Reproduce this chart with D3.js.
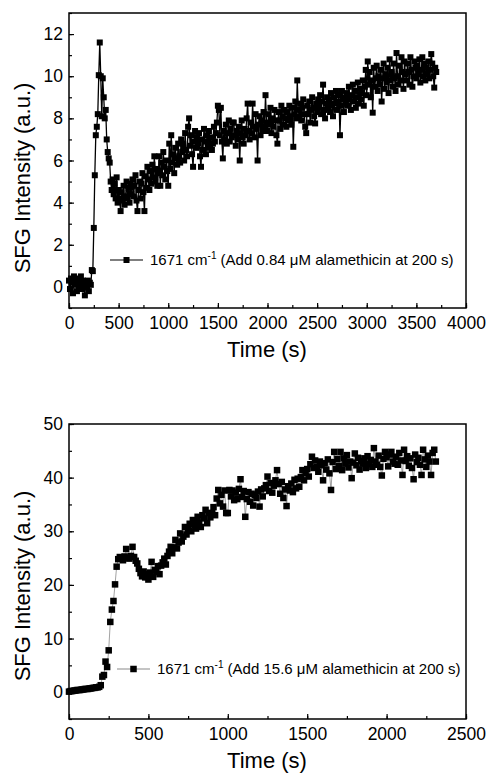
<!DOCTYPE html>
<html lang="en">
<head>
    <meta charset="UTF-8">
    <title>SFG Intensity vs Time</title>
    <script src="https://d3js.org/d3.v7.min.js"></script>
    <style>
        body { margin: 0; background: #fff; }
        svg text { font-family: "Liberation Sans", Arial, sans-serif; fill: #000; }
        .tick text { font-size: 17.5px; }
        .axis path { display: none; }
        .axis line { stroke: #000; stroke-width: 1.2; }
        .axis-title { font-size: 22px; }
        .legend-label { font-size: 15px; }
    </style>
</head>
<body>
    <svg id="chart"></svg>

    <script>
        // Top panel: 0.84 uM alamethicin, one reading every 10 s starting at 0 s
        const topStart = 0;
        const topStep = 10;
        const topValues = [
            0.3, -0.1, 0.4, 0.2, -0.3, 0.5, 0.1, 0.3, -0.2, 0.4,
            0.0, 0.2, 0.5, -0.1, 0.3, 0.1, -0.4, 0.2, 0.0, 0.3,
            -0.2, 0.2, 0.1, 0.8, 0.75, 2.8, 5.3, 7.2, 7.6, 8.2,
            10.05, 11.6, 10.0, 8.1, 9.9, 9.0, 8.0, 8.4, 7.0, 6.4,
            6.1, 5.9, 5.0, 4.6, 5.1, 4.4, 4.9, 4.2, 5.2, 4.0,
            4.6, 4.2, 3.6, 4.5, 4.1, 4.8, 3.9, 4.3, 5.0, 4.2,
            4.7, 4.0, 4.9, 4.4, 5.1, 4.3, 4.8, 5.3, 4.1, 3.6,
            4.6, 5.0, 4.2, 4.9, 5.4, 4.5, 3.6, 5.25, 4.7, 5.7,
            5.1, 4.6, 5.5, 4.9, 5.8, 5.2, 6.2, 5.0, 5.6, 4.8,
            5.4, 6.2, 4.8, 5.9, 5.3, 6.4, 5.7, 5.1, 6.0, 5.5,
            4.8, 6.8, 5.6, 7.2, 5.9, 6.3, 5.4, 6.6, 6.1, 5.8,
            6.8, 6.2, 5.9, 7.0, 6.4, 6.8, 6.0, 7.3, 6.5, 6.2,
            7.6, 8.0, 6.7, 7.2, 6.3, 5.7, 6.9, 7.4, 6.6, 7.1,
            6.8, 7.3, 6.2, 5.7, 7.0, 6.5, 7.5, 6.9, 6.3, 7.2,
            6.6, 7.4, 6.8, 7.1, 6.5, 6.8, 7.6, 6.9, 7.3, 7.8,
            8.6, 8.4, 7.2, 8.5, 6.9, 6.1, 7.4, 7.0, 7.7, 6.8,
            7.3, 7.9, 6.9, 7.5, 7.1, 7.8, 7.8, 7.2, 6.7, 7.4,
            7.0, 7.6, 6.0, 7.3, 7.9, 7.1, 6.8, 7.5, 7.2, 8.0,
            8.7, 7.4, 7.0, 7.8, 7.3, 8.7, 7.6, 7.1, 8.2, 7.5,
            6.0, 7.7, 8.1, 7.2, 7.9, 7.4, 8.3, 7.6, 9.1, 7.8,
            7.4, 8.2, 7.7, 8.5, 7.3, 8.0, 7.6, 8.4, 7.9, 7.2,
            6.8, 8.3, 7.9, 7.5, 8.6, 8.1, 7.7, 8.4, 8.0, 7.6,
            8.3, 7.9, 8.6, 8.1, 7.7, 8.5, 6.65, 8.2, 8.8, 8.0,
            9.8, 8.4, 8.1, 8.7, 7.9, 8.5, 8.9, 8.2, 7.6, 7.3,
            8.6, 8.2, 8.8, 7.8, 8.4, 9.0, 8.5, 8.1, 7.76, 8.7,
            8.3, 8.9, 8.5, 9.1, 8.2, 8.8, 9.6, 8.4, 8.0, 8.7,
            9.0, 8.5, 8.9, 8.3, 9.2, 8.6, 8.1, 9.0, 8.7, 9.3,
            8.4, 8.8, 9.1, 7.2, 8.6, 9.3, 8.9, 8.3, 9.0, 8.7,
            9.2, 8.6, 9.5, 8.9, 8.4, 9.1, 9.6, 8.8, 9.3, 8.5,
            9.0, 9.7, 8.7, 9.4, 8.9, 9.2, 9.8, 8.6, 9.5, 10.3,
            9.1, 10.7, 9.6, 10.2, 9.0, 9.8, 8.27, 10.4, 9.5, 9.9,
            10.5, 9.3, 10.0, 9.6, 10.3, 8.8, 9.9, 10.6, 9.4, 10.1,
            9.7, 10.4, 9.2, 10.8, 9.8, 10.2, 9.5, 10.6, 9.9, 9.3,
            11.1, 10.0, 9.6, 10.5, 9.8, 10.9, 10.2, 9.4, 10.7, 10.1,
            9.8, 10.6, 10.2, 9.6, 10.9, 10.3, 9.5, 10.0, 10.7, 10.4,
            9.9, 10.5, 10.1, 10.8, 9.7, 10.3, 10.9, 10.0, 10.6, 9.8,
            10.4, 10.1, 10.7, 9.9, 10.3, 11.05, 10.6, 10.0, 9.46, 10.4, 10.2
        ];

        // Bottom panel: 15.6 uM alamethicin, one reading every 10 s starting at 0 s
        const bottomStart = 0;
        const bottomStep = 10;
        const bottomValues = [
            0.1, 0.2, 0.2, 0.3, 0.3, 0.4, 0.4, 0.4, 0.5, 0.5,
            0.6, 0.6, 0.6, 0.7, 0.7, 0.8, 0.8, 0.9, 0.9, 1.0,
            1.3, 2.9, 3.2, 5.7, 4.7, 7.8, 13.1, 15.4, 17.0, 20.1,
            23.4, 24.8, 25.2, 25.0, 24.6, 25.3, 26.7, 25.1, 24.9, 25.4,
            27.1, 25.2, 24.5, 24.0, 23.0, 22.2, 21.6, 22.5, 21.4, 22.0,
            21.0, 22.3, 24.3, 21.5, 22.8, 22.4, 23.5, 22.0, 23.6, 24.2,
            24.9, 23.8, 25.4, 26.2, 27.1, 25.9, 27.0, 28.4, 26.8, 27.9,
            29.6, 28.1, 29.0, 30.8, 29.4, 30.2, 31.4, 30.0, 32.1, 31.2,
            30.5, 32.7, 31.6, 30.8, 33.0, 32.4, 34.0, 31.5, 33.4, 32.6,
            33.4, 34.5, 33.0, 36.1, 37.7, 35.2, 36.8, 34.6, 37.6, 33.4,
            33.4, 37.7, 36.5, 37.6, 35.8, 37.2, 36.0, 37.9, 39.7, 36.4,
            37.5, 32.7, 36.0, 37.3, 35.5, 37.0, 34.8, 36.8, 36.2, 37.4,
            34.6, 37.8, 36.5, 38.0, 38.6, 40.2, 37.5, 39.0, 37.2, 38.5,
            39.5, 41.4, 38.8, 37.0, 39.2, 36.2, 37.8, 34.7, 38.4, 37.6,
            38.9, 37.3, 39.6, 38.0, 39.8, 38.3, 40.1, 41.4, 39.5, 40.8,
            41.6, 40.2, 42.5, 43.9, 41.8, 43.2, 42.0, 41.1, 43.0, 42.3,
            39.5, 42.7, 41.5, 43.4, 40.8, 37.7, 42.9, 44.8, 41.6, 43.5,
            42.2, 44.8, 41.4, 43.6, 42.6, 44.2, 41.9, 43.0, 39.9, 42.8,
            44.5, 42.3, 43.7, 41.5, 43.1, 42.6, 43.6, 41.8, 44.0, 42.5,
            43.3, 42.0, 45.5, 43.0, 42.4, 44.1, 42.0, 40.4, 43.5, 44.8,
            43.8, 42.1, 44.3, 44.8, 43.0, 42.6, 43.9, 42.4, 44.6, 43.2,
            40.5, 45.2, 43.1, 44.0, 42.2, 43.6, 41.8, 39.7, 44.3, 42.9,
            43.7, 42.4, 40.5, 45.2, 43.4, 42.0, 44.1, 43.0, 40.5, 44.6,
            45.2, 43.0
        ];

        // Axis ticks
        const topXTicks = [0, 500, 1000, 1500, 2000, 2500, 3000, 3500, 4000];
        const topYTicks = [0, 2, 4, 6, 8, 10, 12];
        const bottomXTicks = [0, 500, 1000, 1500, 2000, 2500];
        const bottomYTicks = [0, 10, 20, 30, 40, 50];

        const width = 488;
        const height = 774;

        const svg = d3.select("#chart")
            .attr("width", width)
            .attr("height", height);

        function drawPanel(cfg) {
            const x = d3.scaleLinear().domain(cfg.xDomain).range([cfg.left, cfg.right]);
            const y = d3.scaleLinear().domain(cfg.yDomain).range([cfg.bottom, cfg.top]);
            const g = svg.append("g");

            const points = cfg.values.map((v, i) => ({ t: cfg.start + i * cfg.step, v: v }));

            // connecting line
            const line = d3.line().x(d => x(d.t)).y(d => y(d.v));
            g.append("path")
                .datum(points)
                .attr("fill", "none")
                .attr("stroke", cfg.lineColor)
                .attr("stroke-width", cfg.lineWidth)
                .attr("d", line);

            // square markers
            g.selectAll(".pt")
                .data(points)
                .enter()
                .append("rect")
                .attr("x", d => x(d.t) - cfg.marker / 2)
                .attr("y", d => y(d.v) - cfg.marker / 2)
                .attr("width", cfg.marker)
                .attr("height", cfg.marker)
                .attr("fill", "#000");

            // minor ticks
            const minorX = d3.range(cfg.xDomain[0], cfg.xDomain[1] + 1, cfg.xMinor);
            const minorY = d3.range(cfg.yDomain[0], cfg.yDomain[1] + 0.01, cfg.yMinor);
            g.append("g")
                .attr("class", "axis")
                .attr("transform", `translate(0,${cfg.bottom})`)
                .call(d3.axisBottom(x).tickValues(minorX).tickSize(-3).tickFormat(""));
            g.append("g")
                .attr("class", "axis")
                .attr("transform", `translate(${cfg.left},0)`)
                .call(d3.axisLeft(y).tickValues(minorY).tickSize(-3).tickFormat(""));

            // major ticks with labels
            g.append("g")
                .attr("class", "axis")
                .attr("transform", `translate(0,${cfg.bottom})`)
                .call(d3.axisBottom(x).tickValues(cfg.xTicks).tickSize(-5).tickPadding(9).tickFormat(d3.format("d")));
            g.append("g")
                .attr("class", "axis")
                .attr("transform", `translate(${cfg.left},0)`)
                .call(d3.axisLeft(y).tickValues(cfg.yTicks).tickSize(-5).tickPadding(6).tickFormat(d3.format("d")));

            // frame
            g.append("rect")
                .attr("x", cfg.left)
                .attr("y", cfg.top)
                .attr("width", cfg.right - cfg.left)
                .attr("height", cfg.bottom - cfg.top)
                .attr("fill", "none")
                .attr("stroke", "#000")
                .attr("stroke-width", 1.5);

            // axis titles
            g.append("text")
                .attr("class", "axis-title")
                .attr("x", 267)
                .attr("y", cfg.bottom + 49)
                .attr("text-anchor", "middle")
                .text("Time (s)");
            g.append("text")
                .attr("class", "axis-title")
                .attr("transform", `translate(30,${cfg.yTitle}) rotate(-90)`)
                .attr("text-anchor", "middle")
                .text("SFG Intensity (a.u.)");

            // legend
            const lg = g.append("g");
            lg.append("line")
                .attr("x1", cfg.legendX).attr("x2", cfg.legendX + 33)
                .attr("y1", cfg.legendY).attr("y2", cfg.legendY)
                .attr("stroke", cfg.lineColor)
                .attr("stroke-width", 1.2);
            lg.append("rect")
                .attr("x", cfg.legendX + 16.5 - cfg.marker / 2)
                .attr("y", cfg.legendY - cfg.marker / 2)
                .attr("width", cfg.marker)
                .attr("height", cfg.marker)
                .attr("fill", "#000");
            const lt = lg.append("text")
                .attr("class", "legend-label")
                .attr("x", cfg.legendX + 40)
                .attr("y", cfg.legendY + 5);
            lt.append("tspan").text("1671 cm");
            lt.append("tspan").attr("dy", -6).style("font-size", "10px").text("-1");
            lt.append("tspan").attr("dy", 6).text(` (Add ${cfg.conc} \u03bcM alamethicin at 200 s)`);
        }

        drawPanel({
            values: topValues, start: topStart, step: topStep,
            xDomain: [0, 4000], yDomain: [-1, 13],
            xTicks: topXTicks, yTicks: topYTicks, xMinor: 250, yMinor: 1,
            left: 69, right: 466, top: 13, bottom: 308,
            yTitle: 178,
            lineColor: "#000", lineWidth: 1.3, marker: 6,
            legendX: 110, legendY: 260, conc: "0.84"
        });

        drawPanel({
            values: bottomValues, start: bottomStart, step: bottomStep,
            xDomain: [0, 2500], yDomain: [-5, 50],
            xTicks: bottomXTicks, yTicks: bottomYTicks, xMinor: 250, yMinor: 5,
            left: 69, right: 466, top: 424, bottom: 719,
            yTitle: 586,
            lineColor: "#8a8a8a", lineWidth: 0.8, marker: 6.5,
            legendX: 117, legendY: 669, conc: "15.6"
        });
    </script>
</body>
</html>
